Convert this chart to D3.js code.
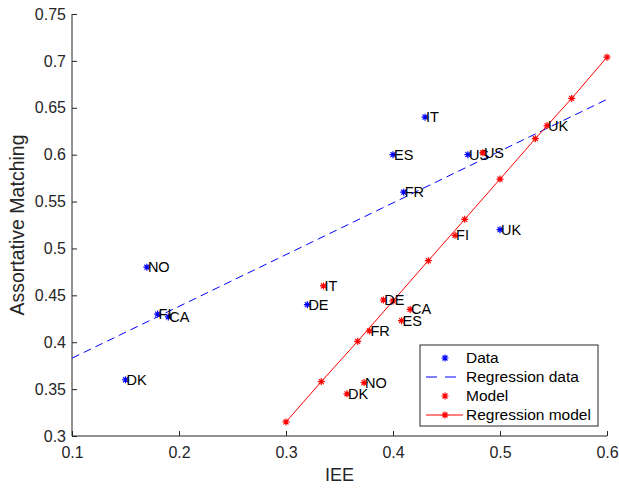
<!DOCTYPE html>
<html>
<head>
<meta charset="utf-8">
<script src="https://cdn.jsdelivr.net/npm/d3@7"></script>
<style>
  body { margin: 0; background: #fff; }
  svg { display: block; font-family: "Liberation Sans", Arial, sans-serif; }
  .tick-label { fill: #262626; font-size: 16px; }
  .axis-title { fill: #262626; font-size: 18px; }
  .pt-label { fill: #000; font-size: 14.5px; }
  .legend-text { fill: #000; font-size: 15.5px; }
</style>
</head>
<body>
<div id="chart"></div>
<script>
// Country order is shared by both data and model series
var countries = ["DK", "NO", "FI", "CA", "DE", "ES", "IT", "FR", "US", "UK"];

// Observed data (blue)
var dataIEE = [0.15, 0.17, 0.18, 0.19, 0.32, 0.40, 0.43, 0.41, 0.47, 0.50];
var dataAM  = [0.36, 0.48, 0.43, 0.427, 0.44, 0.60, 0.64, 0.56, 0.60, 0.52];

// Model output (red)
var modelIEE = [0.357, 0.373, 0.458, 0.416, 0.391, 0.408, 0.335, 0.378, 0.484, 0.544];
var modelAM  = [0.345, 0.357, 0.514, 0.435, 0.445, 0.423, 0.46, 0.412, 0.602, 0.631];

// Regression lines
var regDataX = [0.1, 0.6];
var regDataY = [0.383, 0.659];
var regModelX = [0.3, 0.333, 0.367, 0.4, 0.433, 0.467, 0.5, 0.533, 0.567, 0.6];
var regModelY = [0.315, 0.358, 0.401, 0.444, 0.487, 0.531, 0.574, 0.617, 0.660, 0.704];

var xTicks = [0.1, 0.2, 0.3, 0.4, 0.5, 0.6];
var yTicks = [0.3, 0.35, 0.4, 0.45, 0.5, 0.55, 0.6, 0.65, 0.7, 0.75];

var legendItems = ["Data", "Regression data", "Model", "Regression model"];

var width = 619, height = 488;
var margin = {left: 72, right: 12, top: 14, bottom: 52};
var axisColor = "#262626";

var svg = d3.select("#chart").append("svg")
  .attr("width", width)
  .attr("height", height);

var x = d3.scaleLinear().domain([0.1, 0.6]).range([margin.left, width - margin.right]);
var y = d3.scaleLinear().domain([0.3, 0.75]).range([height - margin.bottom, margin.top]);

// asterisk marker like matlab '*'
var star = function(r){
  var d = r * Math.SQRT1_2;
  return "M" + (-r) + ",0L" + r + ",0" +
    "M0," + (-r) + "L0," + r +
    "M" + (-d) + "," + (-d) + "L" + d + "," + d +
    "M" + (-d) + "," + d + "L" + d + "," + (-d);
};

// AXES (ticks inward, no box)
var fmt = function(d){ return String(+d.toFixed(2)); };
var xAxis = d3.axisBottom(x).tickValues(xTicks).tickSize(-5).tickPadding(11).tickFormat(fmt);
var yAxis = d3.axisLeft(y).tickValues(yTicks).tickSize(-5).tickPadding(6).tickFormat(fmt);

var gx = svg.append("g")
  .attr("transform", "translate(0," + y.range()[0] + ")")
  .call(xAxis);
var gy = svg.append("g")
  .attr("transform", "translate(" + x.range()[0] + ",0)")
  .call(yAxis);

[gx, gy].forEach(function(g){
  g.select(".domain").attr("stroke", axisColor);
  g.selectAll(".tick line").attr("stroke", axisColor);
  g.selectAll(".tick text").attr("class", "tick-label");
  g.attr("font-size", null).attr("font-family", null);
});
// plain spines, no end caps
gx.select(".domain").attr("d", "M" + x.range()[0] + ",0H" + x.range()[1]);
gy.select(".domain").attr("d", "M0," + y.range()[0] + "V" + y.range()[1]);

// axis titles
svg.append("text")
  .attr("class", "axis-title")
  .attr("x", (x.range()[0] + x.range()[1]) / 2)
  .attr("y", 481)
  .attr("text-anchor", "middle")
  .text("IEE");

svg.append("text")
  .attr("class", "axis-title")
  .attr("transform", "translate(24," + ((y.range()[0] + y.range()[1]) / 2) + ") rotate(-90)")
  .attr("text-anchor", "middle")
  .style("font-size", "19.5px")
  .text("Assortative Matching");

var plot = svg.append("g");

var line = d3.line()
  .x(function(d){ return x(d[0]); })
  .y(function(d){ return y(d[1]); });

// regression data line (dashed blue)
plot.append("path")
  .datum(d3.zip(regDataX, regDataY))
  .attr("d", line)
  .attr("fill", "none")
  .attr("stroke", "#0000ff")
  .attr("stroke-width", 1)
  .attr("stroke-dasharray", "8,5");

// regression model line with markers
plot.append("path")
  .datum(d3.zip(regModelX, regModelY))
  .attr("d", line)
  .attr("fill", "none")
  .attr("stroke", "#ff0000")
  .attr("stroke-width", 1);

plot.append("g").selectAll("path")
  .data(d3.zip(regModelX, regModelY))
  .enter().append("path")
    .attr("transform", function(d){ return "translate(" + x(d[0]) + "," + y(d[1]) + ")"; })
    .attr("d", star(3.5))
    .attr("stroke", "#ff0000")
    .attr("stroke-width", 1.2);

// scatter series + country labels
var drawSeries = function(xs, ys, color){
  var pts = d3.zip(xs, ys, countries);
  var g = plot.append("g");
  g.selectAll("path")
    .data(pts)
    .enter().append("path")
      .attr("transform", function(d){ return "translate(" + x(d[0]) + "," + y(d[1]) + ")"; })
      .attr("d", star(3.5))
      .attr("stroke", color)
      .attr("stroke-width", 1.2);
  g.selectAll("text")
    .data(pts)
    .enter().append("text")
      .attr("class", "pt-label")
      .attr("x", function(d){ return x(d[0]) + 1; })
      .attr("y", function(d){ return y(d[1]); })
      .attr("dy", "0.35em")
      .text(function(d){ return d[2]; });
};
drawSeries(dataIEE, dataAM, "#0000ff");
drawSeries(modelIEE, modelAM, "#ff0000");

// LEGEND
var legend = svg.append("g").attr("transform", "translate(420,345)");
legend.append("rect")
  .attr("width", 178)
  .attr("height", 81)
  .attr("fill", "#fff")
  .attr("stroke", axisColor)
  .attr("stroke-width", 1);

var rowY = function(i){ return 13 + i * 19; };
legend.selectAll("text")
  .data(legendItems)
  .enter().append("text")
    .attr("class", "legend-text")
    .attr("x", 46)
    .attr("y", function(d, i){ return rowY(i); })
    .attr("dy", "0.35em")
    .text(function(d){ return d; });

// samples
legend.append("path").attr("transform", "translate(25," + rowY(0) + ")")
  .attr("d", star(3.5)).attr("stroke", "#0000ff").attr("stroke-width", 1.2);
legend.append("line")
  .attr("x1", 6).attr("x2", 43).attr("y1", rowY(1)).attr("y2", rowY(1))
  .attr("stroke", "#0000ff").attr("stroke-dasharray", "11,8");
legend.append("path").attr("transform", "translate(25," + rowY(2) + ")")
  .attr("d", star(3.5)).attr("stroke", "#ff0000").attr("stroke-width", 1.2);
legend.append("line")
  .attr("x1", 6).attr("x2", 43).attr("y1", rowY(3)).attr("y2", rowY(3))
  .attr("stroke", "#ff0000");
legend.append("path").attr("transform", "translate(25," + rowY(3) + ")")
  .attr("d", star(3.5)).attr("stroke", "#ff0000").attr("stroke-width", 1.2);
</script>
</body>
</html>
